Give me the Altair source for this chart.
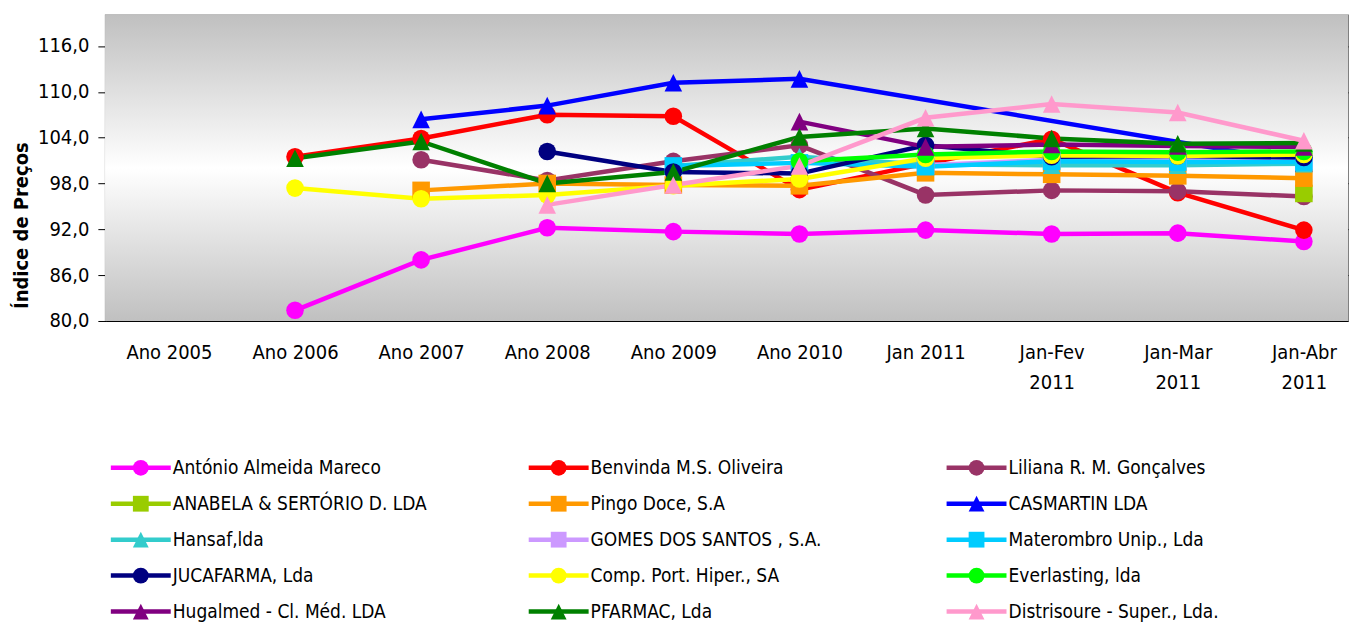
import json
import altair as alt
import pandas as pd

FONT = "DejaVu Sans Condensed"
W, H = 1244, 306
TRI = "M0,-1L1,1L-1,1Z"

categories = ["Ano 2005", "Ano 2006", "Ano 2007", "Ano 2008", "Ano 2009", "Ano 2010",
              "Jan 2011", "Jan-Fev 2011", "Jan-Mar 2011", "Jan-Abr 2011"]
axis_labels = [["Ano 2005"], ["Ano 2006"], ["Ano 2007"], ["Ano 2008"], ["Ano 2009"],
               ["Ano 2010"], ["Jan 2011"], ["Jan-Fev", "2011"], ["Jan-Mar", "2011"],
               ["Jan-Abr", "2011"]]

series_names = [
    "António Almeida Mareco", "Benvinda M.S. Oliveira", "Liliana R. M. Gonçalves",
    "ANABELA & SERTÓRIO D. LDA", "Pingo Doce, S.A", "CASMARTIN LDA",
    "Hansaf,lda", "GOMES DOS SANTOS , S.A.", "Materombro Unip., Lda",
    "JUCAFARMA, Lda", "Comp. Port. Hiper., SA", "Everlasting, lda",
    "Hugalmed - Cl. Méd. LDA", "PFARMAC, Lda", "Distrisoure - Super., Lda.",
]
series_colors = [
    "#FF00FF", "#FF0000", "#993366",
    "#99CC00", "#FF9900", "#0000FF",
    "#33CCCC", "#CC99FF", "#00CCFF",
    "#000080", "#FFFF00", "#00FF00",
    "#800080", "#008000", "#FF99CC",
]
series_shapes = [
    "circle", "circle", "circle",
    "square", "square", TRI,
    TRI, "square", "square",
    "circle", "circle", "circle",
    TRI, TRI, TRI,
]

antonio = [None, 81.4, 88.0, 92.2, 91.7, 91.4, 91.9, 91.4, 91.5, 90.4]
benvinda = [None, 101.5, 103.9, 107.0, 106.8, 97.2, 100.6, 103.8, 96.8, 91.9]
liliana = [None, None, 101.1, 98.4, 100.9, 103.0, 96.5, 97.1, 97.0, 96.3]
anabela = [None, None, None, None, None, None, None, None, None, 96.7]
pingo = [None, None, 97.1, 98.0, 97.8, 97.7, 99.4, 99.2, 99.0, 98.7]
casmartin = [None, None, 106.4, 108.2, 111.2, 111.7, None, None, None, 100.7]
hansaf = [None, None, None, None, 100.3, 101.5, 100.5, 100.4, 100.4, 100.6]
gomes = [None, None, None, None, None, None, 100.4, 101.1, 101.0, 100.9]
materombro = [None, None, None, None, 100.3, 100.7, 100.2, 100.9, 100.8, 100.8]
jucafarma = [None, None, None, 102.2, 99.5, 99.3, 103.0, 101.5, 101.6, 101.4]
comp_port = [None, 97.4, 96.0, 96.5, 97.7, 98.6, 101.3, 101.7, 101.6, 101.8]
everlasting = [None, None, None, None, None, 100.9, 101.8, 102.2, 102.1, 102.2]
hugalmed = [None, None, None, None, None, 106.1, 102.8, 103.1, 102.9, 102.8]
pfarmac = [None, 101.3, 103.5, 98.0, 99.5, 104.1, 105.2, 103.9, 103.2, 103.3]
distrisoure = [None, None, None, 95.2, 97.8, 100.3, 106.6, 108.4, 107.3, 103.6]

series_values = [antonio, benvinda, liliana, anabela, pingo, casmartin, hansaf, gomes,
                 materombro, jucafarma, comp_port, everlasting, hugalmed, pfarmac,
                 distrisoure]

rows = []
for si, (name, vals) in enumerate(zip(series_names, series_values)):
    for ci, v in enumerate(vals):
        if v is not None:
            rows.append({"serie": name, "ordem": si, "xi": ci,
                         "categoria": categories[ci], "valor": v})
df = pd.DataFrame(rows)

legend_df = pd.DataFrame({
    "serie": series_names,
    "col": [i % 3 for i in range(len(series_names))],
    "row": [i // 3 for i in range(len(series_names))],
})

color_scale = alt.Scale(domain=series_names, range=series_colors)
shape_scale = alt.Scale(domain=series_names, range=series_shapes)

x_enc = alt.X(
    "xi:Q",
    scale=alt.Scale(domain=[-0.5, 9.35], nice=False, zero=False),
    axis=alt.Axis(
        values=list(range(len(categories))),
        labelExpr=json.dumps(axis_labels) + "[datum.value]",
        grid=False, domain=False, ticks=False, tickSize=0,
        labelFont=FONT, labelFontSize=20, labelColor="black",
        labelPadding=22, labelLineHeight=30, labelFlush=False,
        labelOverlap=False, labelBound=False, title=None,
    ),
)
y_enc = alt.Y(
    "valor:Q",
    scale=alt.Scale(domain=[80, 120], nice=False, zero=False),
    axis=alt.Axis(
        values=[80, 86, 92, 98, 104, 110, 116],
        labelExpr="replace(format(datum.value, '.1f'), '.', ',')",
        grid=True, gridColor="black", gridWidth=1,
        domainColor="black", domainWidth=1.5,
        tickColor="black", tickSize=8, tickWidth=1,
        labelFont=FONT, labelFontSize=20, labelColor="black", labelPadding=9,
        title="Índice de Preços", titleFont=FONT, titleFontSize=20,
        titleFontWeight="bold", titleColor="black", titleAngle=270,
        titleX=-84, titleY=210, titleAlign="center", titleBaseline="middle",
    ),
)

gradient = alt.LinearGradient(
    gradient="linear",
    stops=[alt.GradientStop(color="#c0c0c0", offset=0),
           alt.GradientStop(color="#ffffff", offset=0.5),
           alt.GradientStop(color="#c0c0c0", offset=1)],
    x1=0, x2=0, y1=0, y2=1,
)

bg = alt.Chart(df).mark_rect(fill=gradient, opacity=1).encode(
    x=alt.value(0), x2=alt.value(W), y=alt.value(0), y2=alt.value(H))

lines = alt.Chart(df).mark_line(strokeWidth=4.5).encode(
    x=x_enc, y=y_enc,
    color=alt.Color("serie:N", scale=color_scale, legend=None),
    detail="serie:N",
    order="xi:Q",
)
points = alt.Chart(df).mark_point(filled=True, size=310, opacity=1).encode(
    x=x_enc, y=y_enc,
    color=alt.Color("serie:N", scale=color_scale, legend=None),
    shape=alt.Shape("serie:N", scale=shape_scale, legend=None),
)

top = alt.layer(bg, lines, points).properties(
    width=W, height=H,
    view=alt.ViewBackground(stroke="#808080", strokeWidth=2),
)

lx = alt.X("col:Q", scale=alt.Scale(domain=[-0.0836, 2.8889], nice=False, zero=False), axis=None)
ly = alt.Y("row:Q", scale=alt.Scale(domain=[-0.5, 4.5], reverse=True, nice=False, zero=False), axis=None)

seg = alt.Chart(legend_df).mark_point(shape="M-1,0H1", size=3600, filled=False,
                                      strokeWidth=4.5, opacity=1).encode(
    x=lx, y=ly, color=alt.Color("serie:N", scale=color_scale, legend=None))
mk = alt.Chart(legend_df).mark_point(filled=True, size=250, opacity=1).encode(
    x=lx, y=ly,
    color=alt.Color("serie:N", scale=color_scale, legend=None),
    shape=alt.Shape("serie:N", scale=shape_scale, legend=None))
txt = alt.Chart(legend_df).mark_text(align="left", baseline="middle", dx=32,
                                     font=FONT, fontSize=19, color="black").encode(
    x=lx, y=ly, text="serie:N")

legend = alt.layer(seg, mk, txt).properties(
    width=W, height=180,
    view=alt.ViewBackground(fill="white", strokeWidth=0),
)

chart = alt.vconcat(top, legend, spacing=56).properties(
    padding={"left": 3, "top": 6, "right": 0, "bottom": 0},
    background="white",
).configure_view(strokeWidth=0)

chart.save("out.html", embed_options={"renderer": "svg", "actions": False})
